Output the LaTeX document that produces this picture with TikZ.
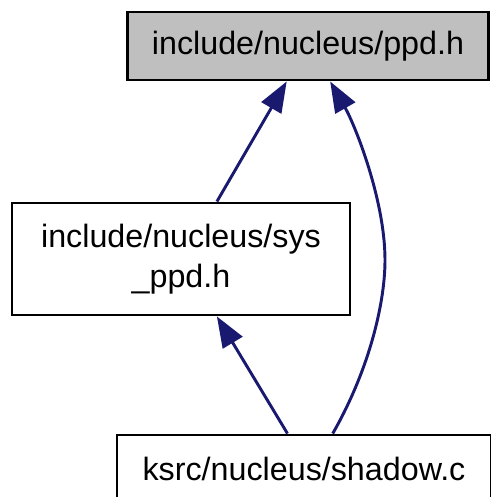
\documentclass[tikz,border=0pt]{standalone}
\usepackage{fontspec}
\setmainfont{Liberation Sans}
\usetikzlibrary{arrows.meta}
\definecolor{edgeblue}{RGB}{25,25,112}
\definecolor{nodegray}{RGB}{191,191,191}
\begin{document}
\begin{tikzpicture}[x=0.75pt, y=-0.75pt,
        every node/.style={font=\fontsize{24.2}{30}\selectfont},
        filebox/.style={draw=black, line width=2.2pt, rectangle, inner sep=0pt, align=center},
        dep/.style={-{Triangle[length=23pt,width=17pt]}, edgeblue, line width=2.2pt}]
        % Canvas
        \useasboundingbox (0,0) rectangle (490,497);

        % Files
        \node[filebox, fill=nodegray, minimum width=361*0.75pt, minimum height=68*0.75pt] (ppd) at (308,46) {include/nucleus/ppd.h};
        \node[filebox, minimum width=338*0.75pt, minimum height=112*0.75pt] (sysppd) at (181,259) {include/nucleus/sys\\\_ppd.h};
        \node[filebox, minimum width=374*0.75pt, minimum height=68*0.75pt] (shadow) at (304,469) {ksrc/nucleus/shadow.c};

        % Include edges
        \draw[dep] (sysppd.58.7) -- (ppd.239.5);
        \draw[dep] (shadow.115.2) -- (sysppd.302.7);
        \draw[dep] (shadow.51.5) .. controls (368,372) and (385,305) .. (385,260)
                   .. controls (385,200) and (355,125) .. (ppd.302.9);
    \end{tikzpicture}
\end{document}
